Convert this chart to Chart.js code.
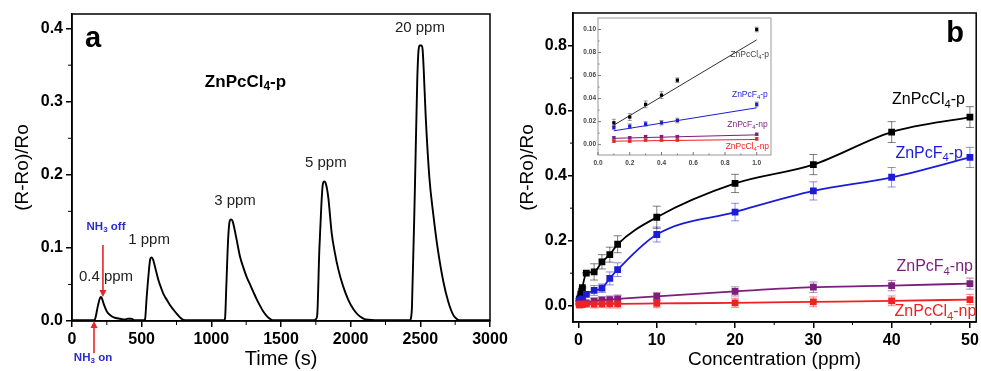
<!DOCTYPE html>
<html>
<head>
<meta charset="utf-8">
<script src="https://cdn.jsdelivr.net/npm/chart.js@4.4.1/dist/chart.umd.min.js"></script>
<style>
  html, body { margin: 0; padding: 0; background: #fff; }
  #wrap { position: relative; width: 981px; height: 371px; overflow: hidden; background: #fff; }
  canvas { position: absolute; }
</style>
</head>
<body>
<div id="wrap">
  <canvas id="chartA" width="530" height="371" style="left:0;top:0"></canvas>
  <canvas id="chartB" width="491" height="371" style="left:490px;top:0"></canvas>
  <canvas id="chartInset" width="200" height="158" style="left:576px;top:14px"></canvas>
</div>
<script>
const FONT = '"Liberation Sans", Arial, Helvetica, sans-serif';
Chart.defaults.font.family = FONT;
Chart.defaults.color = "#000";

// ---- panel a : response vs time (ZnPcCl4-p) ----
const timeA = [
  0, 100, 160, 168, 185, 200, 208, 215, 228, 250, 275, 300, 345, 380, 400, 425, 450, 515,
  524, 535, 550, 562, 572, 582, 596, 620, 640, 656, 680, 703, 730, 751, 775, 795, 830, 900, 1000, 1090,
  1098, 1108, 1120, 1130, 1140, 1152, 1165, 1182, 1206, 1230, 1254, 1280, 1301, 1325, 1349, 1373, 1397, 1420, 1440, 1600, 1740,
  1752, 1760, 1775, 1790, 1800, 1810, 1820, 1830, 1840, 1864, 1885, 1911, 1945, 1983, 2020, 2055, 2085, 2110, 2200, 2300, 2425,
  2433, 2440, 2462, 2478, 2488, 2497, 2508, 2516, 2524, 2538, 2565, 2593, 2624, 2665, 2701, 2737, 2760, 2780, 2900, 3000
];
const respA = [
  0.001, 0.001, 0.001, 0.004, 0.02, 0.031, 0.033, 0.031, 0.023, 0.013, 0.008, 0.005, 0.003, 0.002, 0.003, 0.003, 0.001, 0.001,
  0.002, 0.03, 0.065, 0.085, 0.087, 0.084, 0.074, 0.056, 0.045, 0.037, 0.029, 0.022, 0.015, 0.010, 0.005, 0.002, 0.001, 0.001, 0.001, 0.001,
  0.003, 0.05, 0.11, 0.135, 0.139, 0.137, 0.127, 0.111, 0.088, 0.073, 0.060, 0.049, 0.040, 0.030, 0.021, 0.013, 0.007, 0.003, 0.001, 0.001, 0.001,
  0.003, 0.008, 0.097, 0.16, 0.187, 0.191, 0.189, 0.181, 0.168, 0.12, 0.095, 0.071, 0.048, 0.029, 0.016, 0.008, 0.004, 0.002, 0.001, 0.001, 0.001,
  0.004, 0.02, 0.19, 0.33, 0.372, 0.377, 0.377, 0.372, 0.345, 0.282, 0.196, 0.146, 0.100, 0.054, 0.026, 0.008, 0.003, 0.001, 0.001, 0.001
];
const timeTicksA = [0, 500, 1000, 1500, 2000, 2500, 3000];
const timeMinorA = [250, 750, 1250, 1750, 2250, 2750];
const respTicksA = [0, 0.1, 0.2, 0.3, 0.4];
const respMinorA = [0.05, 0.15, 0.25, 0.35];

// ---- panel b : response vs concentration ----
const concB = [0.1, 0.2, 0.3, 0.4, 0.5, 1, 2, 3, 4, 5, 10, 20, 30, 40, 50];
const clP = [0.019, 0.024, 0.035, 0.043, 0.056, 0.100, 0.104, 0.135, 0.157, 0.189, 0.272, 0.376, 0.434, 0.534, 0.580];
const clPErr = [0.003, 0.003, 0.003, 0.003, 0.002, 0.002, 0.025, 0.022, 0.023, 0.026, 0.034, 0.028, 0.031, 0.032, 0.032];
const fP = [0.015, 0.016, 0.018, 0.019, 0.021, 0.035, 0.047, 0.054, 0.084, 0.111, 0.219, 0.288, 0.353, 0.395, 0.456];
const fPErr = [0.002, 0.002, 0.002, 0.002, 0.002, 0.002, 0.015, 0.013, 0.02, 0.021, 0.023, 0.027, 0.028, 0.03, 0.031];
const fNp = [0.006, 0.006, 0.007, 0.007, 0.007, 0.009, 0.014, 0.017, 0.019, 0.021, 0.029, 0.044, 0.057, 0.062, 0.068];
const fNpErr = [0.001, 0.001, 0.001, 0.001, 0.001, 0.001, 0.01, 0.011, 0.011, 0.012, 0.012, 0.014, 0.016, 0.016, 0.017];
const clNp = [0.003, 0.003, 0.004, 0.004, 0.004, 0.005, 0.005, 0.006, 0.006, 0.006, 0.007, 0.009, 0.012, 0.015, 0.019];
const clNpErr = [0.001, 0.001, 0.001, 0.001, 0.001, 0.001, 0.012, 0.012, 0.013, 0.013, 0.013, 0.014, 0.015, 0.015, 0.016];
const concTicksB = [0, 10, 20, 30, 40, 50];
const concMinorB = [5, 15, 25, 35, 45];
const respTicksB = [0, 0.2, 0.4, 0.6, 0.8];
const respMinorB = [0.1, 0.3, 0.5, 0.7];

// ---- inset : low concentration range with linear fits ----
const INSET_N = 6; // first six concentrations (0.1 .. 1.0 ppm)
const fitConc = [0.1, 1.0];
const clPFit = [0.017, 0.091];
const fPFit = [0.012, 0.032];
const fNpFit = [0.0055, 0.0085];
const clNpFit = [0.003, 0.0045];
const insetConcTicks = [0, 0.2, 0.4, 0.6, 0.8, 1.0];
const insetConcMinor = [0.1, 0.3, 0.5, 0.7, 0.9];
const insetRespTicks = [0, 0.02, 0.04, 0.06, 0.08, 0.10];
const insetRespMinor = [0.01, 0.03, 0.05, 0.07, 0.09];

const COL = { clP: "#000000", fP: "#1c1cd8", fNp: "#7c1f7c", clNp: "#ee2222" };

// texte avec indice (ex: "ZnPcCl_4-p")
function richText(ctx, text, x, y, size, color, weight, align) {
  const parts = text.split(/_(\d)/);
  const segs = parts.map((t, i) => ({ t, sub: i % 2 === 1 })).filter((s) => s.t);
  const font = (sub) => `${weight} ${sub ? size * 0.7 : size}px ${FONT}`;
  let w = 0;
  segs.forEach((s) => { ctx.font = font(s.sub); w += ctx.measureText(s.t).width; });
  let cx = align === "left" ? x : align === "right" ? x - w : x - w / 2;
  ctx.save();
  ctx.fillStyle = color;
  ctx.textAlign = "left";
  ctx.textBaseline = "middle";
  segs.forEach((s) => {
    ctx.font = font(s.sub);
    ctx.fillText(s.t, cx, s.sub ? y + size * 0.3 : y);
    cx += ctx.measureText(s.t).width;
  });
  ctx.restore();
}

function makeScale(o) {
  return {
    type: "linear",
    min: o.min,
    max: o.max,
    afterBuildTicks: (s) => { s.ticks = o.values.map((v) => ({ value: v })); },
    afterFit: (s) => {
      if (o.horizontal) s.height = o.fit; else s.width = o.fit;
      s.paddingLeft = s.paddingRight = s.paddingTop = s.paddingBottom = 0;
    },
    ticks: {
      autoSkip: false, maxRotation: 0, padding: o.pad, color: o.tickColor || "#000",
      font: { size: o.size, weight: "bold" },
      callback: (v) => o.fmt(v),
    },
    grid: o.tickLen
      ? { drawOnChartArea: false, drawTicks: true, tickLength: o.tickLen, color: "#000", lineWidth: 1.5 }
      : { display: false, drawTicks: false },
    border: o.tickLen ? { display: true, color: "#000", width: 1.5 } : { display: false },
    title: o.title
      ? { display: true, text: o.title, font: { size: o.titleSize }, color: "#000", padding: { top: 4, bottom: 0 } }
      : { display: false },
  };
}

// cadre + petites graduations
function framePlugin(color, width, minor) {
  return {
    id: "frame",
    afterDatasetsDraw(chart) {
      const { ctx, chartArea: a, scales } = chart;
      ctx.save();
      ctx.strokeStyle = color;
      ctx.lineWidth = width;
      ctx.strokeRect(a.left, a.top, a.right - a.left, a.bottom - a.top);
      minor.forEach((m) => {
        ctx.lineWidth = m.width || 1;
        ctx.strokeStyle = m.color || color;
        ctx.beginPath();
        m.values.forEach((v) => {
          if (m.axis === "x") {
            const px = scales.x.getPixelForValue(v);
            ctx.moveTo(px, a.bottom);
            ctx.lineTo(px, a.bottom + m.len);
          } else {
            const py = scales.y.getPixelForValue(v);
            ctx.moveTo(a.left, py);
            ctx.lineTo(a.left - m.len, py);
          }
        });
        ctx.stroke();
      });
      ctx.restore();
    },
  };
}

const errorBars = {
  id: "errorBars",
  beforeDatasetsDraw(chart) {
    const { ctx } = chart;
    const ys = chart.scales.y;
    chart.data.datasets.forEach((ds, i) => {
      if (!ds.errors) return;
      const meta = chart.getDatasetMeta(i);
      ctx.save();
      ctx.strokeStyle = ds.errorColor;
      ctx.lineWidth = 1;
      ctx.beginPath();
      meta.data.forEach((pt, j) => {
        const v = ds.data[j].y, e = ds.errors[j];
        const top = ys.getPixelForValue(v + e), bot = ys.getPixelForValue(v - e);
        const cap = ds.capWidth;
        ctx.moveTo(pt.x, top); ctx.lineTo(pt.x, bot);
        ctx.moveTo(pt.x - cap, top); ctx.lineTo(pt.x + cap, top);
        ctx.moveTo(pt.x - cap, bot); ctx.lineTo(pt.x + cap, bot);
      });
      ctx.stroke();
      ctx.restore();
    });
  },
};

function notesPlugin(notes, arrows) {
  return {
    id: "notes",
    afterDraw(chart) {
      const { ctx, scales } = chart;
      (arrows || []).forEach((ar) => {
        const x = scales.x.getPixelForValue(ar.x);
        const y1 = scales.y.getPixelForValue(ar.from);
        const y2 = scales.y.getPixelForValue(ar.to);
        const dir = y2 > y1 ? 1 : -1;
        ctx.save();
        ctx.strokeStyle = ctx.fillStyle = "#e3262b";
        ctx.lineWidth = 1.6;
        ctx.beginPath();
        ctx.moveTo(x, y1);
        ctx.lineTo(x, y2 - dir * 5);
        ctx.stroke();
        ctx.beginPath();
        ctx.moveTo(x, y2);
        ctx.lineTo(x - 3.5, y2 - dir * 7);
        ctx.lineTo(x + 3.5, y2 - dir * 7);
        ctx.closePath();
        ctx.fill();
        ctx.restore();
      });
      notes.forEach((n) => {
        richText(ctx, n.text, scales.x.getPixelForValue(n.x), scales.y.getPixelForValue(n.y),
          n.size, n.color, n.weight || "normal", n.align || "center");
      });
    },
  };
}

// ---------- panel a ----------
const notesA = [
  { text: "a", x: 152, y: 0.386, size: 29, weight: "bold", color: "#000" },
  { text: "ZnPcCl_4-p", x: 1245, y: 0.327, size: 17, weight: "bold", color: "#000" },
  { text: "20 ppm", x: 2497, y: 0.401, size: 15, color: "#222" },
  { text: "5 ppm", x: 1822, y: 0.217, size: 15, color: "#222" },
  { text: "3 ppm", x: 1170, y: 0.164, size: 15, color: "#222" },
  { text: "1 ppm", x: 553, y: 0.111, size: 15, color: "#222" },
  { text: "0.4 ppm", x: 244, y: 0.061, size: 15, color: "#222" },
  { text: "NH_3 off", x: 244, y: 0.129, size: 11.5, weight: "bold", color: "#2b2bd0" },
  { text: "NH_3 on", x: 151, y: -0.050, size: 11.5, weight: "bold", color: "#2b2bd0" },
];
const arrowsA = [
  { x: 222, from: 0.104, to: 0.033 },
  { x: 158, from: -0.044, to: 0.0 },
];

new Chart(document.getElementById("chartA"), {
  type: "line",
  data: {
    datasets: [{
      data: timeA.map((t, i) => ({ x: t, y: respA[i] })),
      borderColor: "#000",
      borderWidth: 1.9,
      pointRadius: 0,
      cubicInterpolationMode: "monotone",
      fill: false,
    }],
  },
  options: {
    responsive: false,
    animation: false,
    events: [],
    layout: { padding: { left: 7, top: 14, right: 40, bottom: 0 } },
    plugins: { legend: { display: false }, tooltip: { enabled: false } },
    scales: {
      x: makeScale({ min: 0, max: 3000, values: timeTicksA, fmt: (v) => String(v), horizontal: true,
        fit: 50, size: 16, pad: 3, tickLen: 6, title: "Time (s)", titleSize: 20 }),
      y: makeScale({ min: 0, max: 0.42, values: respTicksA, fmt: (v) => v.toFixed(1),
        fit: 65, size: 16, pad: 3, tickLen: 6, title: "(R-Ro)/Ro", titleSize: 19 }),
    },
  },
  plugins: [
    framePlugin("#000", 1.5, [
      { axis: "x", values: timeMinorA, len: 4 },
      { axis: "y", values: respMinorA, len: 4 },
    ]),
    notesPlugin(notesA, arrowsA),
  ],
});

// ---------- panel b ----------
function seriesB(values, errors, color, errColor) {
  return {
    data: concB.map((c, i) => ({ x: c, y: values[i] })),
    errors: errors,
    errorColor: errColor,
    capWidth: 4,
    borderColor: color,
    backgroundColor: color,
    borderWidth: 1.8,
    pointStyle: "rect",
    pointRadius: 4.8,
    pointBorderWidth: 0,
    pointBackgroundColor: color,
    cubicInterpolationMode: "monotone",
    fill: false,
  };
}

const notesB = [
  { text: "b", x: 48.1, y: 0.834, size: 29, weight: "bold", color: "#000" },
  { text: "ZnPcCl_4-p", x: 44.7, y: 0.633, size: 16, color: COL.clP },
  { text: "ZnPcF_4-p", x: 44.8, y: 0.469, size: 16, color: COL.fP },
  { text: "ZnPcF_4-np", x: 45.5, y: 0.120, size: 16, color: COL.fNp },
  { text: "ZnPcCl_4-np", x: 45.6, y: -0.019, size: 16, color: COL.clNp },
];

new Chart(document.getElementById("chartB"), {
  type: "line",
  data: {
    datasets: [
      seriesB(clNp, clNpErr, COL.clNp, "rgba(238,34,34,0.55)"),
      seriesB(fNp, fNpErr, COL.fNp, "rgba(124,31,124,0.55)"),
      seriesB(fP, fPErr, COL.fP, "rgba(28,28,216,0.5)"),
      seriesB(clP, clPErr, COL.clP, "rgba(0,0,0,0.5)"),
    ],
  },
  options: {
    responsive: false,
    animation: false,
    events: [],
    layout: { padding: { left: 22, top: 13, right: 1, bottom: 0 } },
    plugins: { legend: { display: false }, tooltip: { enabled: false } },
    scales: {
      x: makeScale({ min: -0.7, max: 50.8, values: concTicksB, fmt: (v) => String(v), horizontal: true,
        fit: 49, size: 16, pad: 3, tickLen: 6, title: "Concentration (ppm)", titleSize: 19 }),
      y: makeScale({ min: -0.05, max: 0.9, values: respTicksB, fmt: (v) => v.toFixed(1),
        fit: 61, size: 16, pad: 1, tickLen: 5, title: "(R-Ro)/Ro", titleSize: 19 }),
    },
  },
  plugins: [
    errorBars,
    framePlugin("#000", 1.5, [
      { axis: "x", values: concMinorB, len: 3 },
      { axis: "y", values: respMinorB, len: 3 },
    ]),
    notesPlugin(notesB),
  ],
});

// ---------- inset ----------
function insetPoints(values, errors, color) {
  return {
    data: concB.slice(0, INSET_N).map((c, i) => ({ x: c, y: values[i] })),
    errors: errors.slice(0, INSET_N),
    errorColor: "rgba(90,90,90,0.6)",
    capWidth: 2,
    showLine: false,
    pointStyle: "rect",
    pointRadius: 2.3,
    pointBorderWidth: 0,
    pointBackgroundColor: color,
    borderColor: color,
  };
}
function insetFit(values, color) {
  return {
    data: fitConc.map((c, i) => ({ x: c, y: values[i] })),
    borderColor: color,
    borderWidth: 1,
    pointRadius: 0,
    fill: false,
  };
}

const notesInset = [
  { text: "ZnPcCl_4-p", x: 1.078, y: 0.078, size: 8.5, color: "#444", align: "right" },
  { text: "ZnPcF_4-p", x: 1.07, y: 0.0435, size: 8.5, color: COL.fP, align: "right" },
  { text: "ZnPcF_4-np", x: 1.07, y: 0.0174, size: 8.5, color: COL.fNp, align: "right" },
  { text: "ZnPcCl_4-np", x: 1.078, y: -0.0017, size: 8.5, color: COL.clNp, align: "right" },
];

new Chart(document.getElementById("chartInset"), {
  type: "line",
  data: {
    datasets: [
      insetPoints(clNp, clNpErr, COL.clNp),
      insetPoints(fNp, fNpErr, COL.fNp),
      insetPoints(fP, fPErr, COL.fP),
      insetPoints(clP, clPErr, COL.clP),
      insetFit(clNpFit, COL.clNp),
      insetFit(fNpFit, COL.fNp),
      insetFit(fPFit, COL.fP),
      insetFit(clPFit, "#333"),
    ],
  },
  options: {
    responsive: false,
    animation: false,
    events: [],
    layout: { padding: { left: 0, top: 4, right: 5, bottom: 0 } },
    plugins: { legend: { display: false }, tooltip: { enabled: false } },
    scales: {
      x: makeScale({ min: 0, max: 1.09, values: insetConcTicks, fmt: (v) => v.toFixed(1), horizontal: true,
        fit: 17, size: 6.5, pad: 4, tickColor: "#444" }),
      y: makeScale({ min: -0.009, max: 0.11, values: insetRespTicks, fmt: (v) => v.toFixed(2),
        fit: 22, size: 6.5, pad: 2, tickColor: "#444" }),
    },
  },
  plugins: [
    {
      id: "insetBg",
      beforeDraw(chart) {
        const { ctx, chartArea: a } = chart;
        ctx.save();
        ctx.fillStyle = "#fff";
        ctx.fillRect(a.left, a.top, a.right - a.left, a.bottom - a.top);
        ctx.restore();
      },
    },
    errorBars,
    framePlugin("#999", 1, [
      { axis: "x", values: insetConcTicks, len: -3, color: "#777" },
      { axis: "x", values: insetConcMinor, len: -1.5, color: "#777" },
      { axis: "y", values: insetRespTicks, len: -3, color: "#777" },
      { axis: "y", values: insetRespMinor, len: -1.5, color: "#777" },
    ]),
    notesPlugin(notesInset),
  ],
});
</script>
</body>
</html>
